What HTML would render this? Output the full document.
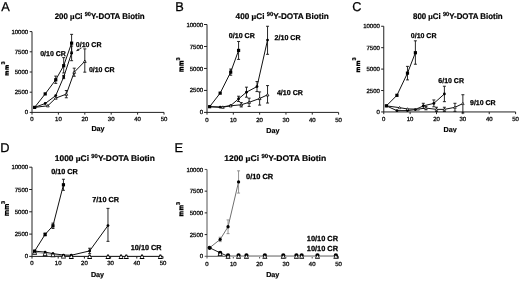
<!DOCTYPE html>
<html><head><meta charset="utf-8"><style>
html,body{margin:0;padding:0;background:#fff;}
svg{display:block;font-family:"Liberation Sans", sans-serif;filter:blur(0.3px);}
</style></head><body>
<svg width="520" height="282" viewBox="0 0 520 282" text-rendering="geometricPrecision">
<rect width="520" height="282" fill="#fff"/>
<text x="1.2" y="10.8" font-size="12.8" fill="#000" stroke="#000" stroke-width="0.25">A</text>
<text x="54.7" y="18.5" font-size="8.2" font-weight="bold" fill="#000" stroke="#000" stroke-width="0.2" textLength="90" lengthAdjust="spacingAndGlyphs">200 <tspan font-family="Liberation Serif, serif" font-weight="bold">μ</tspan>Ci <tspan font-size="5.8" dy="-3">90</tspan><tspan dy="3">Y-DOTA Biotin</tspan></text>
<path d="M29.7,31.6H32V114.60000000000001M29.7,112.4H164.0V114.60000000000001" fill="none" stroke="#222" stroke-width="1.0"/>
<path d="M29.7,92.20H32" stroke="#222" stroke-width="1"/>
<path d="M29.7,72.00H32" stroke="#222" stroke-width="1"/>
<path d="M29.7,51.80H32" stroke="#222" stroke-width="1"/>
<path d="M58.40,112.4v2.2" stroke="#222" stroke-width="1"/>
<path d="M84.80,112.4v2.2" stroke="#222" stroke-width="1"/>
<path d="M111.20,112.4v2.2" stroke="#222" stroke-width="1"/>
<path d="M137.60,112.4v2.2" stroke="#222" stroke-width="1"/>
<text x="28.10" y="114.45" font-size="6" text-anchor="end" fill="#111" stroke="#111" stroke-width="0.3">0</text>
<text x="28.10" y="94.25" font-size="6" text-anchor="end" fill="#111" stroke="#111" stroke-width="0.3">2500</text>
<text x="28.10" y="74.05" font-size="6" text-anchor="end" fill="#111" stroke="#111" stroke-width="0.3">5000</text>
<text x="28.10" y="53.85" font-size="6" text-anchor="end" fill="#111" stroke="#111" stroke-width="0.3">7500</text>
<text x="28.10" y="33.65" font-size="6" text-anchor="end" fill="#111" stroke="#111" stroke-width="0.3">10000</text>
<text x="32.00" y="120.80" font-size="6" text-anchor="middle" fill="#111" stroke="#111" stroke-width="0.3">0</text>
<text x="58.40" y="120.80" font-size="6" text-anchor="middle" fill="#111" stroke="#111" stroke-width="0.3">10</text>
<text x="84.80" y="120.80" font-size="6" text-anchor="middle" fill="#111" stroke="#111" stroke-width="0.3">20</text>
<text x="111.20" y="120.80" font-size="6" text-anchor="middle" fill="#111" stroke="#111" stroke-width="0.3">30</text>
<text x="137.60" y="120.80" font-size="6" text-anchor="middle" fill="#111" stroke="#111" stroke-width="0.3">40</text>
<text x="164.00" y="120.80" font-size="6" text-anchor="middle" fill="#111" stroke="#111" stroke-width="0.3">50</text>
<text x="98.00" y="130.90" font-size="7.2" font-weight="bold" text-anchor="middle" fill="#000" stroke="#000" stroke-width="0.2">Day</text>
<path d="M8.80,74.97H5.20M5.98,74.97V71.83Q5.98,71.33 6.58,71.33H8.80M5.98,73.45Q5.98,73.15 6.58,73.15H8.80" fill="none" stroke="#000" stroke-width="1.25"/>
<path d="M8.80,69.17H5.20M5.98,69.17V66.03Q5.98,65.53 6.58,65.53H8.80M5.98,67.65Q5.98,67.35 6.58,67.35H8.80" fill="none" stroke="#000" stroke-width="1.25"/>
<text transform="translate(4.80,64.60) rotate(-90)" font-size="5.6" font-weight="bold" fill="#000" stroke="#000" stroke-width="0.2">3</text>
<polyline points="34.64,107.39 45.20,103.51 55.76,95.59 63.68,77.01 71.60,53.17" fill="none" stroke="#111" stroke-width="1.0"/>
<path d="M63.68,75.39V78.63M62.18,75.39h3.0M62.18,78.63h3.0" fill="none" stroke="#111" stroke-width="0.9"/>
<path d="M71.60,46.06V60.69M70.10,46.06h3.0M70.10,60.69h3.0" fill="none" stroke="#111" stroke-width="0.9"/>
<circle cx="34.64" cy="107.39" r="1.4" fill="#000"/>
<circle cx="45.20" cy="103.51" r="1.4" fill="#000"/>
<circle cx="55.76" cy="95.59" r="1.4" fill="#000"/>
<circle cx="63.68" cy="77.01" r="1.4" fill="#000"/>
<circle cx="71.60" cy="53.17" r="1.4" fill="#000"/>
<polyline points="34.64,107.39 47.84,105.77 55.76,98.10 66.32,94.14 74.24,72.20 84.80,61.33" fill="none" stroke="#111" stroke-width="1.0"/>
<path d="M66.32,90.50V97.78M64.82,90.50h3.0M64.82,97.78h3.0" fill="none" stroke="#111" stroke-width="0.9"/>
<path d="M74.24,68.16V76.24M72.74,68.16h3.0M72.74,76.24h3.0" fill="none" stroke="#111" stroke-width="0.9"/>
<path d="M84.80,48.89V72.16M83.30,48.89h3.0M83.30,72.16h3.0" fill="none" stroke="#111" stroke-width="0.9"/>
<path d="M47.84,104.43L49.24,106.88H46.44Z" fill="#fff" stroke="#000" stroke-width="0.8"/>
<path d="M55.76,96.75L57.16,99.20H54.36Z" fill="#fff" stroke="#000" stroke-width="0.8"/>
<path d="M66.32,92.79L67.72,95.24H64.92Z" fill="#fff" stroke="#000" stroke-width="0.8"/>
<path d="M74.24,70.85L75.64,73.30H72.84Z" fill="#fff" stroke="#000" stroke-width="0.8"/>
<path d="M84.80,59.99L86.20,62.44H83.40Z" fill="#fff" stroke="#000" stroke-width="0.8"/>
<polyline points="34.64,107.39 45.20,93.90 55.76,79.76 63.68,65.70 71.60,43.15" fill="none" stroke="#111" stroke-width="1.0"/>
<path d="M55.76,76.12V83.39M54.26,76.12h3.0M54.26,83.39h3.0" fill="none" stroke="#111" stroke-width="0.9"/>
<path d="M63.68,57.62V72.97M62.18,57.62h3.0M62.18,72.97h3.0" fill="none" stroke="#111" stroke-width="0.9"/>
<path d="M71.60,34.35V51.96M70.10,34.35h3.0M70.10,51.96h3.0" fill="none" stroke="#111" stroke-width="0.9"/>
<rect x="33.04" y="105.79" width="3.2" height="3.2" fill="#000"/>
<rect x="43.60" y="92.30" width="3.2" height="3.2" fill="#000"/>
<rect x="54.16" y="78.16" width="3.2" height="3.2" fill="#000"/>
<rect x="62.08" y="64.10" width="3.2" height="3.2" fill="#000"/>
<rect x="70.00" y="41.55" width="3.2" height="3.2" fill="#000"/>
<text x="40.2" y="55.6" font-size="7" font-weight="bold" fill="#000" stroke="#000" stroke-width="0.25">0/10 CR</text>
<text x="75.8" y="47.1" font-size="7" font-weight="bold" fill="#000" stroke="#000" stroke-width="0.25">0/10 CR</text>
<text x="88.9" y="71.8" font-size="7" font-weight="bold" fill="#000" stroke="#000" stroke-width="0.25">0/10 CR</text>
<path d="M81.6,47.9L77.4,50.4" stroke="#111" stroke-width="0.8"/><path d="M75.9,51.3l2.2,-2.7l1.2,2.0z" fill="#111"/>
<text x="175.2" y="10.8" font-size="12.8" fill="#000" stroke="#000" stroke-width="0.25">B</text>
<text x="235.6" y="18.7" font-size="8.2" font-weight="bold" fill="#000" stroke="#000" stroke-width="0.2" textLength="93.2" lengthAdjust="spacingAndGlyphs">400 <tspan font-family="Liberation Serif, serif" font-weight="bold">μ</tspan>Ci <tspan font-size="5.8" dy="-3">90</tspan><tspan dy="3">Y-DOTA Biotin</tspan></text>
<path d="M204.0,24.5H207V114.60000000000001M204.0,112.4H338.6V114.60000000000001" fill="none" stroke="#222" stroke-width="1.0"/>
<path d="M204.0,90.43H207" stroke="#222" stroke-width="1"/>
<path d="M204.0,68.45H207" stroke="#222" stroke-width="1"/>
<path d="M204.0,46.47H207" stroke="#222" stroke-width="1"/>
<path d="M233.32,112.4v2.2" stroke="#222" stroke-width="1"/>
<path d="M259.64,112.4v2.2" stroke="#222" stroke-width="1"/>
<path d="M285.96,112.4v2.2" stroke="#222" stroke-width="1"/>
<path d="M312.28,112.4v2.2" stroke="#222" stroke-width="1"/>
<text x="203.10" y="114.45" font-size="6" text-anchor="end" fill="#111" stroke="#111" stroke-width="0.3">0</text>
<text x="203.10" y="92.48" font-size="6" text-anchor="end" fill="#111" stroke="#111" stroke-width="0.3">2500</text>
<text x="203.10" y="70.50" font-size="6" text-anchor="end" fill="#111" stroke="#111" stroke-width="0.3">5000</text>
<text x="203.10" y="48.52" font-size="6" text-anchor="end" fill="#111" stroke="#111" stroke-width="0.3">7500</text>
<text x="203.10" y="26.55" font-size="6" text-anchor="end" fill="#111" stroke="#111" stroke-width="0.3">10000</text>
<text x="207.00" y="121.50" font-size="6" text-anchor="middle" fill="#111" stroke="#111" stroke-width="0.3">0</text>
<text x="233.32" y="121.50" font-size="6" text-anchor="middle" fill="#111" stroke="#111" stroke-width="0.3">10</text>
<text x="259.64" y="121.50" font-size="6" text-anchor="middle" fill="#111" stroke="#111" stroke-width="0.3">20</text>
<text x="285.96" y="121.50" font-size="6" text-anchor="middle" fill="#111" stroke="#111" stroke-width="0.3">30</text>
<text x="312.28" y="121.50" font-size="6" text-anchor="middle" fill="#111" stroke="#111" stroke-width="0.3">40</text>
<text x="338.60" y="121.50" font-size="6" text-anchor="middle" fill="#111" stroke="#111" stroke-width="0.3">50</text>
<text x="272.80" y="132.60" font-size="7.2" font-weight="bold" text-anchor="middle" fill="#000" stroke="#000" stroke-width="0.2">Day</text>
<path d="M183.70,71.17H179.30M180.08,71.17V67.83Q180.08,67.33 180.68,67.33H183.70M180.08,69.55Q180.08,69.25 180.68,69.25H183.70" fill="none" stroke="#000" stroke-width="1.25"/>
<path d="M183.70,65.17H179.30M180.08,65.17V61.83Q180.08,61.33 180.68,61.33H183.70M180.08,63.55Q180.08,63.25 180.68,63.25H183.70" fill="none" stroke="#000" stroke-width="1.25"/>
<text transform="translate(180.00,60.50) rotate(-90)" font-size="5.6" font-weight="bold" fill="#000" stroke="#000" stroke-width="0.2">3</text>
<polyline points="209.63,106.69 220.16,107.21 230.69,105.59 238.58,98.86 246.48,92.18 257.01,86.56 267.54,40.06" fill="none" stroke="#111" stroke-width="1.0"/>
<path d="M238.58,96.23V101.50M237.08,96.23h3.0M237.08,101.50h3.0" fill="none" stroke="#111" stroke-width="0.9"/>
<path d="M246.48,87.17V97.19M244.98,87.17h3.0M244.98,97.19h3.0" fill="none" stroke="#111" stroke-width="0.9"/>
<path d="M257.01,81.55V91.57M255.51,81.55h3.0M255.51,91.57h3.0" fill="none" stroke="#111" stroke-width="0.9"/>
<path d="M267.54,26.26V54.30M266.04,26.26h3.0M266.04,54.30h3.0" fill="none" stroke="#111" stroke-width="0.9"/>
<circle cx="209.63" cy="106.69" r="1.4" fill="#000"/>
<circle cx="220.16" cy="107.21" r="1.4" fill="#000"/>
<circle cx="230.69" cy="105.59" r="1.4" fill="#000"/>
<circle cx="238.58" cy="98.86" r="1.4" fill="#000"/>
<circle cx="246.48" cy="92.18" r="1.4" fill="#000"/>
<circle cx="257.01" cy="86.56" r="1.4" fill="#000"/>
<circle cx="267.54" cy="40.06" r="1.4" fill="#000"/>
<polyline points="209.63,106.69 222.79,107.21 230.69,105.81 241.22,104.75 249.11,102.29 259.64,98.51 267.54,94.82" fill="none" stroke="#111" stroke-width="1.0"/>
<path d="M241.22,102.56V106.95M239.72,102.56h3.0M239.72,106.95h3.0" fill="none" stroke="#111" stroke-width="0.9"/>
<path d="M249.11,98.16V106.42M247.61,98.16h3.0M247.61,106.42h3.0" fill="none" stroke="#111" stroke-width="0.9"/>
<path d="M259.64,91.92V105.10M258.14,91.92h3.0M258.14,105.10h3.0" fill="none" stroke="#111" stroke-width="0.9"/>
<path d="M267.54,85.59V103.04M266.04,85.59h3.0M266.04,103.04h3.0" fill="none" stroke="#111" stroke-width="0.9"/>
<path d="M222.79,105.87L224.19,108.32H221.39Z" fill="#fff" stroke="#000" stroke-width="0.8"/>
<path d="M230.69,104.46L232.09,106.91H229.29Z" fill="#fff" stroke="#000" stroke-width="0.8"/>
<path d="M241.22,103.41L242.62,105.86H239.82Z" fill="#fff" stroke="#000" stroke-width="0.8"/>
<path d="M249.11,100.94L250.51,103.39H247.71Z" fill="#fff" stroke="#000" stroke-width="0.8"/>
<path d="M259.64,97.16L261.04,99.61H258.24Z" fill="#fff" stroke="#000" stroke-width="0.8"/>
<path d="M267.54,93.47L268.94,95.92H266.14Z" fill="#fff" stroke="#000" stroke-width="0.8"/>
<polyline points="209.63,106.69 220.16,93.15 230.69,72.14 238.58,50.43" fill="none" stroke="#111" stroke-width="1.0"/>
<path d="M230.69,69.07V75.22M229.19,69.07h3.0M229.19,75.22h3.0" fill="none" stroke="#111" stroke-width="0.9"/>
<path d="M238.58,41.46V59.40M237.08,41.46h3.0M237.08,59.40h3.0" fill="none" stroke="#111" stroke-width="0.9"/>
<rect x="208.03" y="105.09" width="3.2" height="3.2" fill="#000"/>
<rect x="218.56" y="91.55" width="3.2" height="3.2" fill="#000"/>
<rect x="229.09" y="70.54" width="3.2" height="3.2" fill="#000"/>
<rect x="236.98" y="48.83" width="3.2" height="3.2" fill="#000"/>
<text x="228.8" y="38.4" font-size="7.1" font-weight="bold" fill="#000" stroke="#000" stroke-width="0.25">0/10 CR</text>
<text x="274.6" y="39.8" font-size="7.1" font-weight="bold" fill="#000" stroke="#000" stroke-width="0.25">2/10 CR</text>
<text x="276.9" y="95.2" font-size="7.1" font-weight="bold" fill="#000" stroke="#000" stroke-width="0.25">4/10 CR</text>
<text x="352.2" y="10.8" font-size="12.8" fill="#000" stroke="#000" stroke-width="0.25">C</text>
<text x="413" y="18.8" font-size="8.2" font-weight="bold" fill="#000" stroke="#000" stroke-width="0.2" textLength="89.7" lengthAdjust="spacingAndGlyphs">800 <tspan font-family="Liberation Serif, serif" font-weight="bold">μ</tspan>Ci <tspan font-size="5.8" dy="-3">90</tspan><tspan dy="3">Y-DOTA Biotin</tspan></text>
<path d="M381.15,26.25H383.75V114.15M381.15,111.95H515.6V114.15" fill="none" stroke="#222" stroke-width="1.0"/>
<path d="M381.15,90.53H383.75" stroke="#222" stroke-width="1"/>
<path d="M381.15,69.10H383.75" stroke="#222" stroke-width="1"/>
<path d="M381.15,47.68H383.75" stroke="#222" stroke-width="1"/>
<path d="M410.12,111.95v2.2" stroke="#222" stroke-width="1"/>
<path d="M436.49,111.95v2.2" stroke="#222" stroke-width="1"/>
<path d="M462.86,111.95v2.2" stroke="#222" stroke-width="1"/>
<path d="M489.23,111.95v2.2" stroke="#222" stroke-width="1"/>
<text x="379.85" y="114.00" font-size="6" text-anchor="end" fill="#111" stroke="#111" stroke-width="0.3">0</text>
<text x="379.85" y="92.58" font-size="6" text-anchor="end" fill="#111" stroke="#111" stroke-width="0.3">2500</text>
<text x="379.85" y="71.15" font-size="6" text-anchor="end" fill="#111" stroke="#111" stroke-width="0.3">5000</text>
<text x="379.85" y="49.73" font-size="6" text-anchor="end" fill="#111" stroke="#111" stroke-width="0.3">7500</text>
<text x="379.85" y="28.30" font-size="6" text-anchor="end" fill="#111" stroke="#111" stroke-width="0.3">10000</text>
<text x="383.75" y="121.05" font-size="6" text-anchor="middle" fill="#111" stroke="#111" stroke-width="0.3">0</text>
<text x="410.12" y="121.05" font-size="6" text-anchor="middle" fill="#111" stroke="#111" stroke-width="0.3">10</text>
<text x="436.49" y="121.05" font-size="6" text-anchor="middle" fill="#111" stroke="#111" stroke-width="0.3">20</text>
<text x="462.86" y="121.05" font-size="6" text-anchor="middle" fill="#111" stroke="#111" stroke-width="0.3">30</text>
<text x="489.23" y="121.05" font-size="6" text-anchor="middle" fill="#111" stroke="#111" stroke-width="0.3">40</text>
<text x="515.60" y="121.05" font-size="6" text-anchor="middle" fill="#111" stroke="#111" stroke-width="0.3">50</text>
<clipPath id="dayclip"><rect x="0" y="0" width="520" height="132.4"/></clipPath>
<text clip-path="url(#dayclip)" x="450.18" y="131.95" font-size="7.2" font-weight="bold" text-anchor="middle" fill="#000" stroke="#000" stroke-width="0.2">Day</text>
<path d="M360.20,71.67H356.40M357.17,71.67V68.08Q357.17,67.58 357.77,67.58H360.20M357.17,69.92Q357.17,69.62 357.77,69.62H360.20" fill="none" stroke="#000" stroke-width="1.25"/>
<path d="M360.20,65.42H356.40M357.17,65.42V61.83Q357.17,61.33 357.77,61.33H360.20M357.17,63.67Q357.17,63.38 357.77,63.38H360.20" fill="none" stroke="#000" stroke-width="1.25"/>
<text transform="translate(356.40,60.60) rotate(-90)" font-size="5.6" font-weight="bold" fill="#000" stroke="#000" stroke-width="0.2">3</text>
<polyline points="386.39,105.87 396.94,110.66 407.48,110.58 415.39,109.64 423.31,105.87 433.85,103.38 444.40,93.95" fill="none" stroke="#111" stroke-width="1.0"/>
<path d="M423.31,103.29V108.44M421.81,103.29h3.0M421.81,108.44h3.0" fill="none" stroke="#111" stroke-width="0.9"/>
<path d="M433.85,99.95V106.81M432.35,99.95h3.0M432.35,106.81h3.0" fill="none" stroke="#111" stroke-width="0.9"/>
<path d="M444.40,86.24V101.67M442.90,86.24h3.0M442.90,101.67h3.0" fill="none" stroke="#111" stroke-width="0.9"/>
<circle cx="386.39" cy="105.87" r="1.4" fill="#000"/>
<circle cx="396.94" cy="110.66" r="1.4" fill="#000"/>
<circle cx="407.48" cy="110.58" r="1.4" fill="#000"/>
<circle cx="415.39" cy="109.64" r="1.4" fill="#000"/>
<circle cx="423.31" cy="105.87" r="1.4" fill="#000"/>
<circle cx="433.85" cy="103.38" r="1.4" fill="#000"/>
<circle cx="444.40" cy="93.95" r="1.4" fill="#000"/>
<polyline points="386.39,105.87 399.57,107.67 407.48,108.95 418.03,109.12 425.94,108.09 436.49,109.38 444.40,109.38 454.95,107.32 462.86,103.55" fill="none" stroke="#111" stroke-width="1.0"/>
<path d="M425.94,106.38V109.81M424.44,106.38h3.0M424.44,109.81h3.0" fill="none" stroke="#111" stroke-width="0.9"/>
<path d="M436.49,107.24V111.52M434.99,107.24h3.0M434.99,111.52h3.0" fill="none" stroke="#111" stroke-width="0.9"/>
<path d="M444.40,107.24V111.52M442.90,107.24h3.0M442.90,111.52h3.0" fill="none" stroke="#111" stroke-width="0.9"/>
<path d="M454.95,103.29V111.35M453.45,103.29h3.0M453.45,111.35h3.0" fill="none" stroke="#111" stroke-width="0.9"/>
<path d="M462.86,94.72V112.98M461.36,94.72h3.0M461.36,112.98h3.0" fill="none" stroke="#111" stroke-width="0.9"/>
<path d="M399.57,106.41L400.87,108.69H398.27Z" fill="#fff" stroke="#000" stroke-width="0.65"/>
<path d="M407.48,107.70L408.78,109.97H406.18Z" fill="#fff" stroke="#000" stroke-width="0.65"/>
<path d="M418.03,107.87L419.33,110.15H416.73Z" fill="#fff" stroke="#000" stroke-width="0.65"/>
<path d="M425.94,106.84L427.24,109.12H424.64Z" fill="#fff" stroke="#000" stroke-width="0.65"/>
<path d="M436.49,108.13L437.79,110.40H435.19Z" fill="#fff" stroke="#000" stroke-width="0.65"/>
<path d="M444.40,108.13L445.70,110.40H443.10Z" fill="#fff" stroke="#000" stroke-width="0.65"/>
<path d="M454.95,106.07L456.25,108.35H453.65Z" fill="#fff" stroke="#000" stroke-width="0.65"/>
<path d="M462.86,102.30L464.16,104.58H461.56Z" fill="#fff" stroke="#000" stroke-width="0.65"/>
<polyline points="386.39,105.87 396.94,95.32 407.48,73.13 415.39,52.73" fill="none" stroke="#111" stroke-width="1.0"/>
<path d="M407.48,66.36V79.90M405.98,66.36h3.0M405.98,79.90h3.0" fill="none" stroke="#111" stroke-width="0.9"/>
<path d="M415.39,40.82V64.22M413.89,40.82h3.0M413.89,64.22h3.0" fill="none" stroke="#111" stroke-width="0.9"/>
<rect x="384.79" y="104.27" width="3.2" height="3.2" fill="#000"/>
<rect x="395.33" y="93.72" width="3.2" height="3.2" fill="#000"/>
<rect x="405.88" y="71.53" width="3.2" height="3.2" fill="#000"/>
<rect x="413.79" y="51.13" width="3.2" height="3.2" fill="#000"/>
<text x="410.8" y="37.8" font-size="7" font-weight="bold" fill="#000" stroke="#000" stroke-width="0.25">0/10 CR</text>
<text x="438.3" y="82.8" font-size="7" font-weight="bold" fill="#000" stroke="#000" stroke-width="0.25">6/10 CR</text>
<text x="470" y="105.1" font-size="7" font-weight="bold" fill="#000" stroke="#000" stroke-width="0.25">9/10 CR</text>
<text x="0.3" y="152.2" font-size="12.8" fill="#000" stroke="#000" stroke-width="0.25">D</text>
<text x="54.8" y="161" font-size="8.2" font-weight="bold" fill="#000" stroke="#000" stroke-width="0.2" textLength="100" lengthAdjust="spacingAndGlyphs">1000 <tspan font-family="Liberation Serif, serif" font-weight="bold">μ</tspan>Ci <tspan font-size="5.8" dy="-3">90</tspan><tspan dy="3">Y-DOTA Biotin</tspan></text>
<path d="M29.2,167.2H32V258.59999999999997M29.2,256.4H163.0V258.59999999999997" fill="none" stroke="#222" stroke-width="1.0"/>
<path d="M29.2,234.10H32" stroke="#222" stroke-width="1"/>
<path d="M29.2,211.80H32" stroke="#222" stroke-width="1"/>
<path d="M29.2,189.50H32" stroke="#222" stroke-width="1"/>
<path d="M58.20,256.4v2.2" stroke="#222" stroke-width="1"/>
<path d="M84.40,256.4v2.2" stroke="#222" stroke-width="1"/>
<path d="M110.60,256.4v2.2" stroke="#222" stroke-width="1"/>
<path d="M136.80,256.4v2.2" stroke="#222" stroke-width="1"/>
<text x="28.10" y="258.45" font-size="6" text-anchor="end" fill="#111" stroke="#111" stroke-width="0.3">0</text>
<text x="28.10" y="236.15" font-size="6" text-anchor="end" fill="#111" stroke="#111" stroke-width="0.3">2500</text>
<text x="28.10" y="213.85" font-size="6" text-anchor="end" fill="#111" stroke="#111" stroke-width="0.3">5000</text>
<text x="28.10" y="191.55" font-size="6" text-anchor="end" fill="#111" stroke="#111" stroke-width="0.3">7500</text>
<text x="28.10" y="169.25" font-size="6" text-anchor="end" fill="#111" stroke="#111" stroke-width="0.3">10000</text>
<text x="32.00" y="265.30" font-size="6" text-anchor="middle" fill="#111" stroke="#111" stroke-width="0.3">0</text>
<text x="58.20" y="265.30" font-size="6" text-anchor="middle" fill="#111" stroke="#111" stroke-width="0.3">10</text>
<text x="84.40" y="265.30" font-size="6" text-anchor="middle" fill="#111" stroke="#111" stroke-width="0.3">20</text>
<text x="110.60" y="265.30" font-size="6" text-anchor="middle" fill="#111" stroke="#111" stroke-width="0.3">30</text>
<text x="136.80" y="265.30" font-size="6" text-anchor="middle" fill="#111" stroke="#111" stroke-width="0.3">40</text>
<text x="163.00" y="265.30" font-size="6" text-anchor="middle" fill="#111" stroke="#111" stroke-width="0.3">50</text>
<text x="97.50" y="276.60" font-size="7.2" font-weight="bold" text-anchor="middle" fill="#000" stroke="#000" stroke-width="0.2">Day</text>
<path d="M9.00,215.07H4.80M5.58,215.07V211.47Q5.58,210.97 6.17,210.97H9.00M5.58,213.32Q5.58,213.02 6.17,213.02H9.00" fill="none" stroke="#000" stroke-width="1.25"/>
<path d="M9.00,208.82H4.80M5.58,208.82V205.22Q5.58,204.72 6.17,204.72H9.00M5.58,207.07Q5.58,206.77 6.17,206.77H9.00" fill="none" stroke="#000" stroke-width="1.25"/>
<text transform="translate(5.00,204.00) rotate(-90)" font-size="5.6" font-weight="bold" fill="#000" stroke="#000" stroke-width="0.2">3</text>
<polyline points="34.62,251.14 45.10,252.12 52.96,253.63 63.44,255.06 71.30,255.24 89.64,250.91 107.98,225.54" fill="none" stroke="#111" stroke-width="1.0"/>
<path d="M89.64,248.24V253.59M88.14,248.24h3.0M88.14,253.59h3.0" fill="none" stroke="#111" stroke-width="0.9"/>
<path d="M107.98,208.37V241.33M106.48,208.37h3.0M106.48,241.33h3.0" fill="none" stroke="#111" stroke-width="0.9"/>
<circle cx="34.62" cy="251.14" r="1.4" fill="#000"/>
<circle cx="45.10" cy="252.12" r="1.4" fill="#000"/>
<circle cx="52.96" cy="253.63" r="1.4" fill="#000"/>
<circle cx="63.44" cy="255.06" r="1.4" fill="#000"/>
<circle cx="71.30" cy="255.24" r="1.4" fill="#000"/>
<circle cx="89.64" cy="250.91" r="1.4" fill="#000"/>
<circle cx="107.98" cy="225.54" r="1.4" fill="#000"/>
<polyline points="34.62,252.12 45.10,253.63 52.96,254.62 63.44,255.95 71.30,256.40 89.64,256.40 107.98,256.40 121.08,256.40 126.32,256.40 142.04,256.40 160.38,256.40" fill="none" stroke="#111" stroke-width="0.4"/>
<path d="M33.82,250.12H35.42L37.12,254.67H32.12Z" fill="#000"/>
<path d="M34.62,251.27L36.17,253.82H33.07Z" fill="#fff"/>
<path d="M44.30,251.63H45.90L47.60,256.18H42.60Z" fill="#000"/>
<path d="M45.10,252.78L46.65,255.33H43.55Z" fill="#fff"/>
<path d="M52.16,252.62H53.76L55.46,257.17H50.46Z" fill="#000"/>
<path d="M52.96,253.77L54.51,256.32H51.41Z" fill="#fff"/>
<path d="M62.64,253.95H64.24L65.94,258.50H60.94Z" fill="#000"/>
<path d="M63.44,255.10L64.99,257.65H61.89Z" fill="#fff"/>
<path d="M70.50,254.40H72.10L73.80,258.95H68.80Z" fill="#000"/>
<path d="M71.30,255.55L72.85,258.10H69.75Z" fill="#fff"/>
<path d="M88.84,254.40H90.44L92.14,258.95H87.14Z" fill="#000"/>
<path d="M89.64,255.55L91.19,258.10H88.09Z" fill="#fff"/>
<path d="M107.18,254.40H108.78L110.48,258.95H105.48Z" fill="#000"/>
<path d="M107.98,255.55L109.53,258.10H106.43Z" fill="#fff"/>
<path d="M120.28,254.40H121.88L123.58,258.95H118.58Z" fill="#000"/>
<path d="M121.08,255.55L122.63,258.10H119.53Z" fill="#fff"/>
<path d="M125.52,254.40H127.12L128.82,258.95H123.82Z" fill="#000"/>
<path d="M126.32,255.55L127.87,258.10H124.77Z" fill="#fff"/>
<path d="M141.24,254.40H142.84L144.54,258.95H139.54Z" fill="#000"/>
<path d="M142.04,255.55L143.59,258.10H140.49Z" fill="#fff"/>
<path d="M159.58,254.40H161.18L162.88,258.95H157.88Z" fill="#000"/>
<path d="M160.38,255.55L161.93,258.10H158.83Z" fill="#fff"/>
<polyline points="34.62,251.14 45.10,234.46 52.96,225.80 63.44,184.77" fill="none" stroke="#111" stroke-width="1.0"/>
<path d="M45.10,233.12V235.79M43.60,233.12h3.0M43.60,235.79h3.0" fill="none" stroke="#111" stroke-width="0.9"/>
<path d="M52.96,223.13V228.48M51.46,223.13h3.0M51.46,228.48h3.0" fill="none" stroke="#111" stroke-width="0.9"/>
<path d="M63.44,179.24V190.30M61.94,179.24h3.0M61.94,190.30h3.0" fill="none" stroke="#111" stroke-width="0.9"/>
<rect x="33.02" y="249.54" width="3.2" height="3.2" fill="#000"/>
<rect x="43.50" y="232.86" width="3.2" height="3.2" fill="#000"/>
<rect x="51.36" y="224.20" width="3.2" height="3.2" fill="#000"/>
<rect x="61.84" y="183.17" width="3.2" height="3.2" fill="#000"/>
<text x="51.2" y="173.9" font-size="7.25" font-weight="bold" fill="#000" stroke="#000" stroke-width="0.25">0/10 CR</text>
<text x="92.3" y="201.9" font-size="7.25" font-weight="bold" fill="#000" stroke="#000" stroke-width="0.25">7/10 CR</text>
<text x="130.8" y="250.2" font-size="7.25" font-weight="bold" fill="#000" stroke="#000" stroke-width="0.25">10/10 CR</text>
<text x="174.5" y="151.8" font-size="12.8" fill="#000" stroke="#000" stroke-width="0.25">E</text>
<text x="224.2" y="160.7" font-size="8.2" font-weight="bold" fill="#000" stroke="#000" stroke-width="0.2" textLength="102" lengthAdjust="spacingAndGlyphs">1200 <tspan font-family="Liberation Serif, serif" font-weight="bold">μ</tspan>Ci <tspan font-size="5.8" dy="-3">90</tspan><tspan dy="3">Y-DOTA Biotin</tspan></text>
<path d="M204.7,169.45H207V258.5M204.7,256.3H338.5V258.5" fill="none" stroke="#555" stroke-width="1.0"/>
<path d="M204.7,234.59H207" stroke="#222" stroke-width="1"/>
<path d="M204.7,212.88H207" stroke="#222" stroke-width="1"/>
<path d="M204.7,191.16H207" stroke="#222" stroke-width="1"/>
<path d="M233.30,256.3v2.2" stroke="#555" stroke-width="1"/>
<path d="M259.60,256.3v2.2" stroke="#555" stroke-width="1"/>
<path d="M285.90,256.3v2.2" stroke="#555" stroke-width="1"/>
<path d="M312.20,256.3v2.2" stroke="#555" stroke-width="1"/>
<text x="203.10" y="258.35" font-size="6" text-anchor="end" fill="#111" stroke="#111" stroke-width="0.3">0</text>
<text x="203.10" y="236.64" font-size="6" text-anchor="end" fill="#111" stroke="#111" stroke-width="0.3">2500</text>
<text x="203.10" y="214.93" font-size="6" text-anchor="end" fill="#111" stroke="#111" stroke-width="0.3">5000</text>
<text x="203.10" y="193.21" font-size="6" text-anchor="end" fill="#111" stroke="#111" stroke-width="0.3">7500</text>
<text x="203.10" y="171.50" font-size="6" text-anchor="end" fill="#111" stroke="#111" stroke-width="0.3">10000</text>
<text x="207.00" y="265.60" font-size="6" text-anchor="middle" fill="#111" stroke="#111" stroke-width="0.3">0</text>
<text x="233.30" y="265.60" font-size="6" text-anchor="middle" fill="#111" stroke="#111" stroke-width="0.3">10</text>
<text x="259.60" y="265.60" font-size="6" text-anchor="middle" fill="#111" stroke="#111" stroke-width="0.3">20</text>
<text x="285.90" y="265.60" font-size="6" text-anchor="middle" fill="#111" stroke="#111" stroke-width="0.3">30</text>
<text x="312.20" y="265.60" font-size="6" text-anchor="middle" fill="#111" stroke="#111" stroke-width="0.3">40</text>
<text x="338.50" y="265.60" font-size="6" text-anchor="middle" fill="#111" stroke="#111" stroke-width="0.3">50</text>
<text x="272.75" y="276.70" font-size="7.2" font-weight="bold" text-anchor="middle" fill="#000" stroke="#000" stroke-width="0.2">Day</text>
<path d="M183.50,215.68H179.30M180.08,215.68V212.32Q180.08,211.82 180.68,211.82H183.50M180.08,214.05Q180.08,213.75 180.68,213.75H183.50" fill="none" stroke="#000" stroke-width="1.25"/>
<path d="M183.50,209.68H179.30M180.08,209.68V206.32Q180.08,205.82 180.68,205.82H183.50M180.08,208.05Q180.08,207.75 180.68,207.75H183.50" fill="none" stroke="#000" stroke-width="1.25"/>
<text transform="translate(180.00,205.00) rotate(-90)" font-size="5.6" font-weight="bold" fill="#000" stroke="#000" stroke-width="0.2">3</text>
<polyline points="209.63,247.79 220.15,252.83 228.04,256.30 238.56,256.30 246.45,256.30 264.86,256.30 283.27,256.30 296.42,256.30 301.68,256.30 317.46,256.30 335.87,256.30" fill="none" stroke="#222" stroke-width="1.0"/>
<circle cx="209.63" cy="247.79" r="2.1" fill="#000"/>
<circle cx="220.15" cy="252.83" r="2.1" fill="#000"/>
<circle cx="228.04" cy="255.30" r="2.1" fill="#000"/>
<circle cx="238.56" cy="255.30" r="2.1" fill="#000"/>
<circle cx="246.45" cy="255.30" r="2.1" fill="#000"/>
<circle cx="264.86" cy="255.30" r="2.1" fill="#000"/>
<circle cx="283.27" cy="255.30" r="2.1" fill="#000"/>
<circle cx="296.42" cy="255.30" r="2.1" fill="#000"/>
<circle cx="301.68" cy="255.30" r="2.1" fill="#000"/>
<circle cx="317.46" cy="255.30" r="2.1" fill="#000"/>
<circle cx="335.87" cy="255.30" r="2.1" fill="#000"/>
<polyline points="228.04,256.30 238.56,256.30 246.45,256.30 264.86,256.30 283.27,256.30 296.42,256.30 301.68,256.30 317.46,256.30 335.87,256.30" fill="none" stroke="#aaa" stroke-width="1.3"/>
<path d="M219.35,251.49H220.95L222.65,256.04H217.65Z" fill="#000"/>
<path d="M220.15,252.64L221.70,255.19H218.60Z" fill="#fff"/>
<path d="M227.24,254.10H228.84L230.54,258.65H225.54Z" fill="#000"/>
<path d="M228.04,255.25L229.59,257.80H226.49Z" fill="#fff"/>
<path d="M237.76,254.10H239.36L241.06,258.65H236.06Z" fill="#000"/>
<path d="M238.56,255.25L240.11,257.80H237.01Z" fill="#fff"/>
<path d="M245.65,254.10H247.25L248.95,258.65H243.95Z" fill="#000"/>
<path d="M246.45,255.25L248.00,257.80H244.90Z" fill="#fff"/>
<path d="M264.06,254.10H265.66L267.36,258.65H262.36Z" fill="#000"/>
<path d="M264.86,255.25L266.41,257.80H263.31Z" fill="#fff"/>
<path d="M282.47,254.10H284.07L285.77,258.65H280.77Z" fill="#000"/>
<path d="M283.27,255.25L284.82,257.80H281.72Z" fill="#fff"/>
<path d="M295.62,254.10H297.22L298.92,258.65H293.92Z" fill="#000"/>
<path d="M296.42,255.25L297.97,257.80H294.87Z" fill="#fff"/>
<path d="M300.88,254.10H302.48L304.18,258.65H299.18Z" fill="#000"/>
<path d="M301.68,255.25L303.23,257.80H300.13Z" fill="#fff"/>
<path d="M316.66,254.10H318.26L319.96,258.65H314.96Z" fill="#000"/>
<path d="M317.46,255.25L319.01,257.80H315.91Z" fill="#fff"/>
<path d="M335.07,254.10H336.67L338.37,258.65H333.37Z" fill="#000"/>
<path d="M335.87,255.25L337.42,257.80H334.32Z" fill="#fff"/>
<polyline points="209.63,247.79 220.15,239.45 228.04,226.77 238.56,181.96" fill="none" stroke="#707070" stroke-width="1.0"/>
<path d="M220.15,237.28V241.62M218.65,237.28h3.0M218.65,241.62h3.0" fill="none" stroke="#888" stroke-width="0.9"/>
<path d="M228.04,219.91V233.63M226.54,219.91h3.0M226.54,233.63h3.0" fill="none" stroke="#888" stroke-width="0.9"/>
<path d="M238.56,170.84V193.07M237.06,170.84h3.0M237.06,193.07h3.0" fill="none" stroke="#888" stroke-width="0.9"/>
<circle cx="209.63" cy="247.79" r="1.65" fill="#000"/>
<circle cx="220.15" cy="239.45" r="1.65" fill="#000"/>
<circle cx="228.04" cy="226.77" r="1.65" fill="#000"/>
<circle cx="238.56" cy="181.96" r="1.65" fill="#000"/>
<text x="246.1" y="178.9" font-size="7.4" font-weight="bold" fill="#000" stroke="#000" stroke-width="0.25">0/10 CR</text>
<text x="306.8" y="240.9" font-size="7.4" font-weight="bold" fill="#000" stroke="#000" stroke-width="0.25">10/10 CR</text>
<text x="306.8" y="250.5" font-size="7.4" font-weight="bold" fill="#000" stroke="#000" stroke-width="0.25">10/10 CR</text>
</svg>
</body></html>
